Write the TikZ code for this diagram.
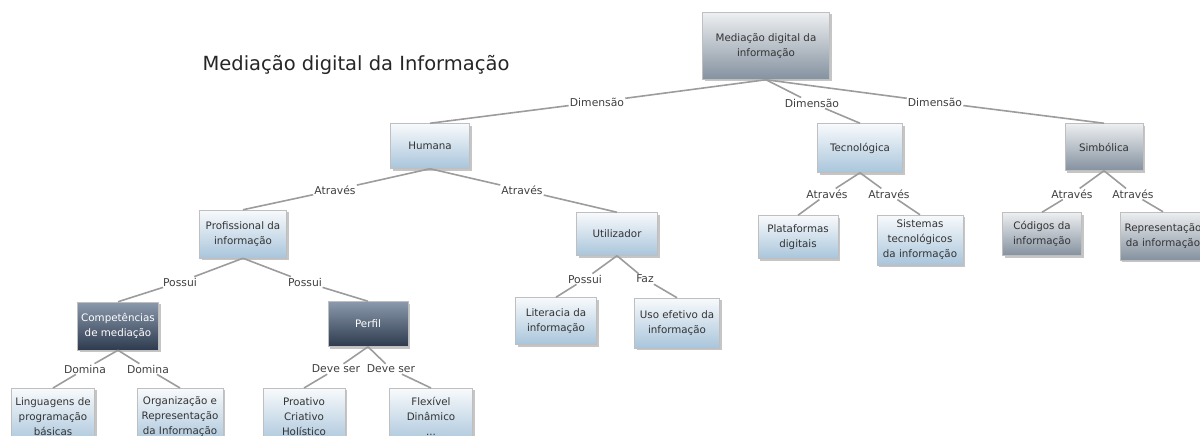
\documentclass[tikz,border=0pt]{standalone}
\usepackage{fontspec}
\setmainfont{DejaVu Sans}
\usetikzlibrary{shadows}
\definecolor{lighttop}{HTML}{F8FAFC}
\definecolor{lightbot}{HTML}{A9C5DB}
\definecolor{graytop}{HTML}{EDEFF1}
\definecolor{graybot}{HTML}{84919F}
\definecolor{darktop}{HTML}{8B99AC}
\definecolor{darkbot}{HTML}{2E3B4F}
\definecolor{linkgray}{HTML}{9C9C9C}
\begin{document}
\begin{tikzpicture}[x=1pt,y=-1pt,
  box/.style={draw=gray!50, line width=0.5pt, align=center, inner sep=2pt, text=black!80,
    font=\fontsize{10.3}{15}\selectfont,
    drop shadow={shadow xshift=2pt, shadow yshift=-2pt, fill=black!45}},
  sz/.style 2 args={minimum width=#1pt, minimum height=#2pt},
  lightbox/.style={box, top color=lighttop, bottom color=lightbot},
  graybox/.style={box, top color=graytop, bottom color=graybot},
  darkbox/.style={box, top color=darktop, bottom color=darkbot, text=white},
  rel/.style={inner sep=1pt, text=black!75, font=\fontsize{10.8}{12}\selectfont},
  link/.style={draw=linkgray, line width=1.6pt}]
  \useasboundingbox (0,0) rectangle (1200,436);
  \clip (0,0) rectangle (1200,436);
  \node[text=black!85, font=\fontsize{19.5}{23}\selectfont] (title) at (356, 65) {Mediação digital da Informação};
  \node[graybox,  sz={127}{67}] (med)  at ( 766,  46) {Mediação digital da\\informação};
  \node[lightbox, sz={79}{45}]  (hum)  at ( 430, 146) {Humana};
  \node[lightbox, sz={85}{49}]  (tec)  at ( 860, 148) {Tecnológica};
  \node[graybox,  sz={78}{47}]  (simb) at (1104, 147) {Simbólica};
  \node[lightbox, sz={87}{48}]  (prof) at ( 243, 234) {Profissional da\\informação};
  \node[lightbox, sz={81}{43}]  (util) at ( 617, 234) {Utilizador};
  \node[lightbox, sz={80}{43}]  (plat) at ( 798, 237) {Plataformas\\digitais};
  \node[lightbox, sz={86}{50}]  (sist) at ( 920, 240) {Sistemas\\tecnológicos\\da informação};
  \node[graybox,  sz={79}{43}]  (cod)  at (1042, 234) {Códigos da\\informação};
  \node[graybox,  sz={86}{48}]  (repr) at (1163, 236) {Representação\\da informação};
  \node[darkbox,  sz={81}{48}]  (comp) at ( 118, 326) {Competências\\de mediação};
  \node[darkbox,  sz={80}{45}]  (perf) at ( 368, 324) {Perfil};
  \node[lightbox, sz={81}{47}]  (lit)  at ( 556, 321) {Literacia da\\informação};
  \node[lightbox, sz={85}{50}]  (uso)  at ( 677, 323) {Uso efetivo da\\informação};
  \node[lightbox, sz={83}{56}, anchor=north] (ling) at ( 53, 388) {Linguagens de\\programação\\básicas};
  \node[lightbox, sz={86}{56}, anchor=north] (org)  at (180, 388) {Organização e\\Representação\\da Informação};
  \node[lightbox, sz={82}{56}, anchor=north] (proa) at (304, 388) {Proativo\\Criativo\\Holístico};
  \node[lightbox, sz={83}{56}, anchor=north] (flex) at (431, 388) {Flexível\\Dinâmico\\...};
  \node[rel] (dim1) at ( 597, 102) {Dimensão};
  \node[rel] (dim2) at ( 812, 103) {Dimensão};
  \node[rel] (dim3) at ( 935, 102) {Dimensão};
  \node[rel] (atr1) at ( 335, 190) {Através};
  \node[rel] (atr2) at ( 522, 190) {Através};
  \node[rel] (atr3) at ( 827, 194) {Através};
  \node[rel] (atr4) at ( 889, 194) {Através};
  \node[rel] (atr5) at (1072, 194) {Através};
  \node[rel] (atr6) at (1133, 194) {Através};
  \node[rel] (pos1) at ( 180, 282) {Possui};
  \node[rel] (pos2) at ( 305, 282) {Possui};
  \node[rel] (pos3) at ( 585, 279) {Possui};
  \node[rel] (faz)  at ( 645, 279) {Faz};
  \node[rel] (dom1) at (  85, 369) {Domina};
  \node[rel] (dom2) at ( 148, 369) {Domina};
  \node[rel] (dev1) at ( 336, 369) {Deve ser};
  \node[rel] (dev2) at ( 391, 369) {Deve ser};
  \draw[link] (med.south) -- (dim1) -- (hum.north);
  \draw[link] (med.south) -- (dim2) -- (tec.north);
  \draw[link] (med.south) -- (dim3) -- (simb.north);
  \draw[link] (hum.south) -- (atr1) -- (prof.north);
  \draw[link] (hum.south) -- (atr2) -- (util.north);
  \draw[link] (tec.south) -- (atr3) -- (plat.north);
  \draw[link] (tec.south) -- (atr4) -- (sist.north);
  \draw[link] (simb.south) -- (atr5) -- (cod.north);
  \draw[link] (simb.south) -- (atr6) -- (repr.north);
  \draw[link] (prof.south) -- (pos1) -- (comp.north);
  \draw[link] (prof.south) -- (pos2) -- (perf.north);
  \draw[link] (util.south) -- (pos3) -- (lit.north);
  \draw[link] (util.south) -- (faz) -- (uso.north);
  \draw[link] (comp.south) -- (dom1) -- (ling.north);
  \draw[link] (comp.south) -- (dom2) -- (org.north);
  \draw[link] (perf.south) -- (dev1) -- (proa.north);
  \draw[link] (perf.south) -- (dev2) -- (flex.north);
\end{tikzpicture}
\end{document}
